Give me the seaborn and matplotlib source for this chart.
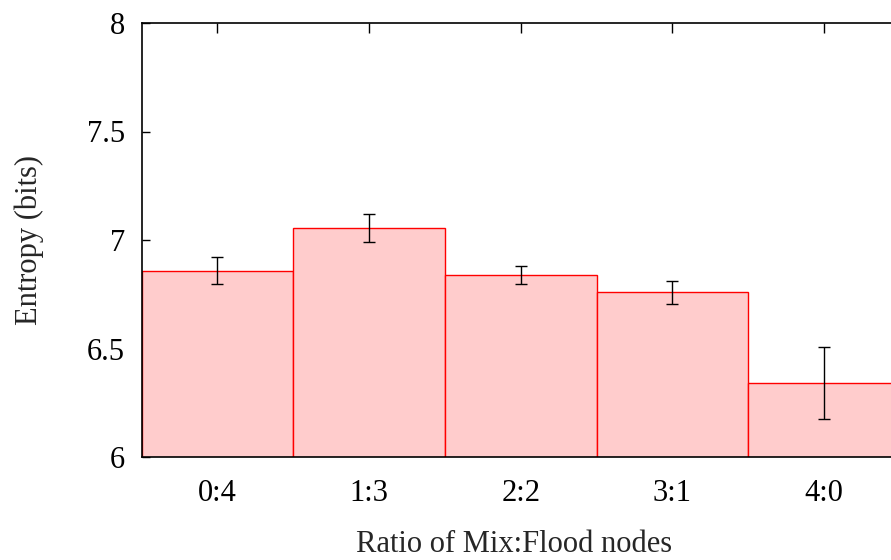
import matplotlib
matplotlib.use("Agg")
import matplotlib.pyplot as plt
import seaborn as sns
import pandas as pd

categories = ["0:4", "1:3", "2:2", "3:1", "4:0"]
entropy = [6.858, 7.054, 6.839, 6.759, 6.340]
errors = [0.062, 0.064, 0.041, 0.052, 0.167]
yticks = [6, 6.5, 7, 7.5, 8]
ytick_labels = ["6", "6.5", "7", "7.5", "8"]

sns.set_style("white")
plt.rcParams['font.family'] = ['Liberation Serif', 'DejaVu Serif']

fig = plt.figure(figsize=(8.91, 5.60), dpi=100)
ax = fig.add_axes([141.5/891, 1 - 457/560, (900 - 141.5)/891, (457 - 23)/560])

df = pd.DataFrame({"cat": categories, "val": entropy})
sns.barplot(data=df, x="cat", y="val", ax=ax, width=1.0, color="#ffcccc",
            saturation=1, edgecolor="#ff0000", linewidth=1.0, errorbar=None)
ax.errorbar(range(len(categories)), entropy, yerr=errors, fmt="none",
            ecolor="black", elinewidth=1.0, capsize=4, capthick=1.0)

ax.set_xlim(-0.5, len(categories) - 0.5)
ax.set_ylim(6, 8)
ax.set_yticks(yticks)
ax.set_yticklabels(ytick_labels)
ax.tick_params(axis="both", labelsize=22, direction="in", length=6, width=1, colors="black")
ax.tick_params(axis="x", bottom=False, top=True, length=7, pad=16)
ax.tick_params(axis="y", left=True, right=False, pad=12)
ax.set_xlabel("Ratio of Mix:Flood nodes", fontsize=22, labelpad=16)
ax.xaxis.label.set_x(0.491)
ax.set_ylabel("Entropy (bits)", fontsize=22, labelpad=31)
for s in ["left", "top", "bottom"]:
    ax.spines[s].set_visible(True)
    ax.spines[s].set_color("black")
    ax.spines[s].set_linewidth(1.2)
ax.spines["right"].set_visible(False)

fig.savefig("out.png", dpi=100)
